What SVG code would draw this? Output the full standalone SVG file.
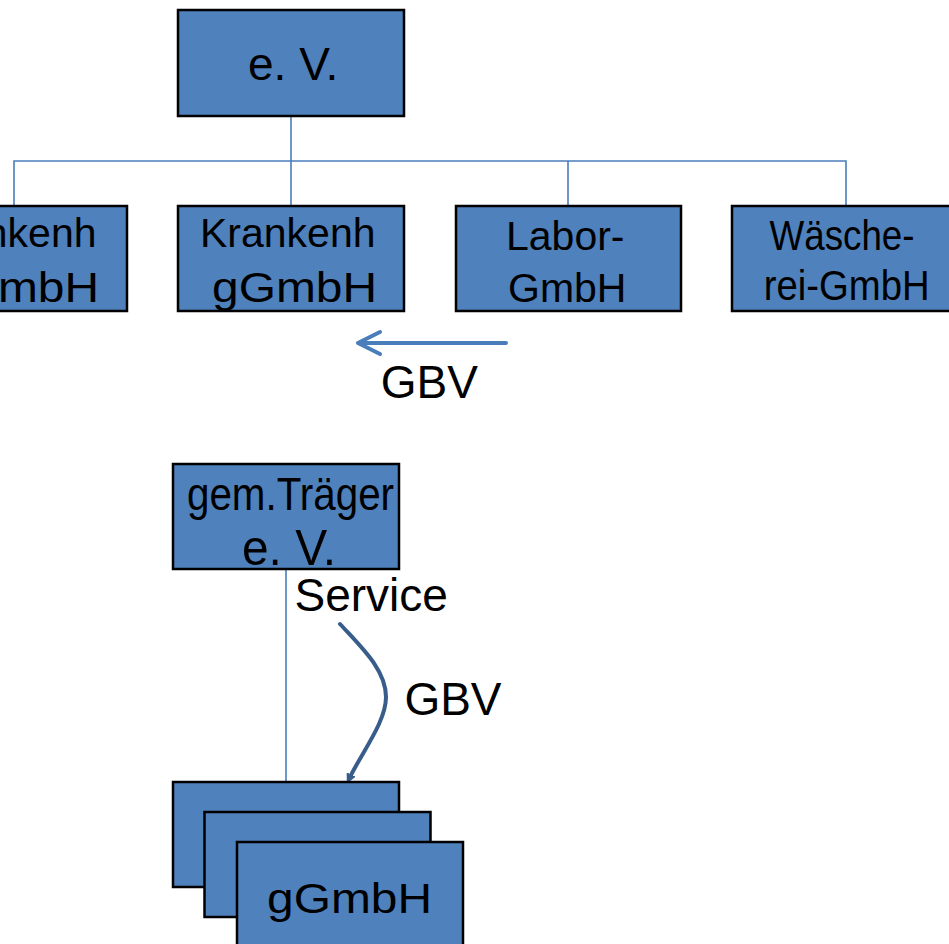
<svg xmlns="http://www.w3.org/2000/svg" width="949" height="944" viewBox="0 0 949 944">
  <style>
    .box { fill: #4F81BD; stroke: #000; stroke-width: 2.5; }
    .lbl { font-family: "Liberation Sans", Arial, sans-serif; fill: #000; }
    .tree { fill: none; stroke: #4A7EBB; stroke-width: 1.6; }
    .gbv { fill: none; stroke: #4A7EBB; stroke-width: 4; stroke-linecap: round; stroke-linejoin: round; }
    .svc { fill: none; stroke: #385D8A; stroke-width: 4; stroke-linecap: round; }
  </style>
  <defs>
    <marker id="svcHead" viewBox="0 0 10 10" refX="5" refY="5" markerWidth="2.5" markerHeight="2.5" orient="auto">
      <path d="M0,0 L10,5 L0,10 Z" fill="#385D8A"/>
    </marker>
  </defs>

  <rect width="949" height="944" fill="#fff"/>

  <!-- connectors -->
  <g id="connectors">
    <path class="tree" d="M291,116 V206 M14,206 V161 H846 V206 M568,161 V206"/>
    <path class="gbv" d="M506,343 H358 M380,332 L358,343 L380,354"/>
    <path class="tree" d="M286,569 V782"/>
    <path class="svc" d="M340,624 C362,648 386,670 386,697 C386,722 362,752 349,779" marker-end="url(#svcHead)"/>
  </g>

  <!-- association -->
  <g id="ev">
    <rect class="box" x="178" y="10" width="226" height="106"/>
    <text class="lbl" x="248" y="80" font-size="46">e. V.</text>
  </g>

  <!-- subsidiaries -->
  <g id="krankenh-left">
    <rect class="box" x="-99" y="206" width="226" height="105"/>
    <text class="lbl" x="-79" y="246.7" font-size="41">Krankenh</text>
    <text class="lbl" x="-66" y="301.7" font-size="43" textLength="165" lengthAdjust="spacingAndGlyphs">gGmbH</text>
  </g>

  <g id="krankenh">
    <rect class="box" x="178" y="206" width="226" height="105"/>
    <text class="lbl" x="200" y="246.7" font-size="41">Krankenh</text>
    <text class="lbl" x="212" y="301.7" font-size="43" textLength="165" lengthAdjust="spacingAndGlyphs">gGmbH</text>
  </g>

  <g id="labor">
    <rect class="box" x="456" y="206" width="225" height="105"/>
    <text class="lbl" x="506" y="250" font-size="41">Labor-</text>
    <text class="lbl" x="508" y="301.7" font-size="41">GmbH</text>
  </g>

  <g id="waescherei">
    <rect class="box" x="732" y="206" width="226" height="105"/>
    <text class="lbl" x="769.5" y="250" font-size="42" textLength="145" lengthAdjust="spacingAndGlyphs">Wäsche-</text>
    <text class="lbl" x="763.7" y="300" font-size="43" textLength="166" lengthAdjust="spacingAndGlyphs">rei-GmbH</text>
  </g>

  <!-- edge labels -->
  <g id="labels">
    <text class="lbl" x="380.7" y="398" font-size="46">GBV</text>
    <text class="lbl" x="294.5" y="611" font-size="46">Service</text>
    <text class="lbl" x="404.4" y="715" font-size="46">GBV</text>
  </g>

  <!-- joint sponsor -->
  <g id="gem-traeger">
    <rect class="box" x="173" y="464" width="226" height="105"/>
    <text class="lbl" x="187" y="510" font-size="46" textLength="207" lengthAdjust="spacingAndGlyphs">gem.Träger</text>
    <text class="lbl" x="242" y="565" font-size="50" textLength="94" lengthAdjust="spacingAndGlyphs">e. V.</text>
  </g>

  <!-- stacked companies -->
  <g id="ggmbh-stack">
    <rect class="box" x="173" y="782" width="226" height="105"/>
    <rect class="box" x="204.5" y="812" width="226" height="105"/>
    <rect class="box" x="237" y="842" width="226" height="106"/>
    <text class="lbl" x="267" y="913.3" font-size="43" textLength="165" lengthAdjust="spacingAndGlyphs">gGmbH</text>
  </g>
</svg>
